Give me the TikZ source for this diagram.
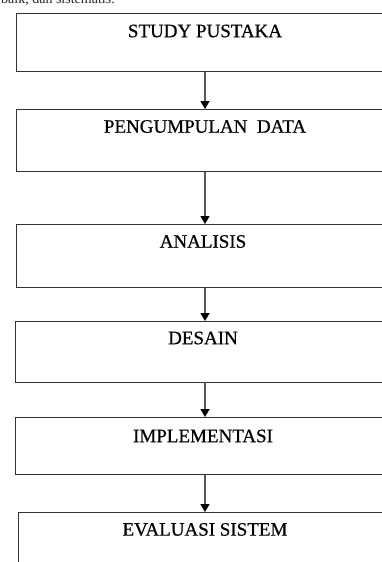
\documentclass[tikz,border=0pt]{standalone}
\usepackage{fontspec}
\setmainfont{Liberation Serif}
\newfontfamily\boxfont{Liberation Serif}[BoldFont=Liberation Serif, BoldFeatures={FakeBold=0.6}]
\usetikzlibrary{arrows.meta}
\begin{document}
\begin{tikzpicture}[x=1pt,y=-1pt,
  box/.style={draw=black!80, line width=1.3pt, rectangle, minimum width=390pt, inner sep=0pt, anchor=north west},
  lbl/.style={font=\boxfont\bfseries\fontsize{19}{22}\selectfont, text=black, inner sep=0pt, anchor=center},
  arr/.style={draw=black!65, line width=1.4pt, -{Triangle[length=8pt,width=9pt,fill=black,color=black]}}]
\useasboundingbox (0,0) rectangle (382,562);
\clip (0,0) rectangle (382,562);
\fill[white] (0,0) rectangle (382,562);
\node[font=\fontsize{14}{16}\selectfont, anchor=base west, inner sep=0pt, text=black!85] (top) at (1,3.5) {baik, dan sistematis.};
\node[box, minimum height=58pt] (b1) at (16,13) {};
\node[box, minimum height=62pt] (b2) at (16,109) {};
\node[box, minimum height=63pt] (b3) at (16,224) {};
\node[box, minimum height=61pt] (b4) at (15,321) {};
\node[box, minimum height=57pt] (b5) at (15,417) {};
\node[box, minimum height=80pt] (b6) at (18,512) {};
\node[lbl] (t1) at (205,31) {STUDY PUSTAKA};
\node[lbl] (t2) at (205,126.5) {PENGUMPULAN\ \ DATA};
\node[lbl] (t3) at (203,241.5) {ANALISIS};
\node[lbl] (t4) at (203,338) {DESAIN};
\node[lbl] (t5) at (203,436) {IMPLEMENTASI};
\node[lbl] (t6) at (205,529.5) {EVALUASI SISTEM};
\coordinate (ax) at (205,0);
\draw[arr] (b1.south -| ax) -- (b2.north -| ax);
\draw[arr] (b2.south -| ax) -- (b3.north -| ax);
\draw[arr] (b3.south -| ax) -- (b4.north -| ax);
\draw[arr] (b4.south -| ax) -- (b5.north -| ax);
\draw[arr] (b5.south -| ax) -- (b6.north -| ax);
\end{tikzpicture}
\end{document}
